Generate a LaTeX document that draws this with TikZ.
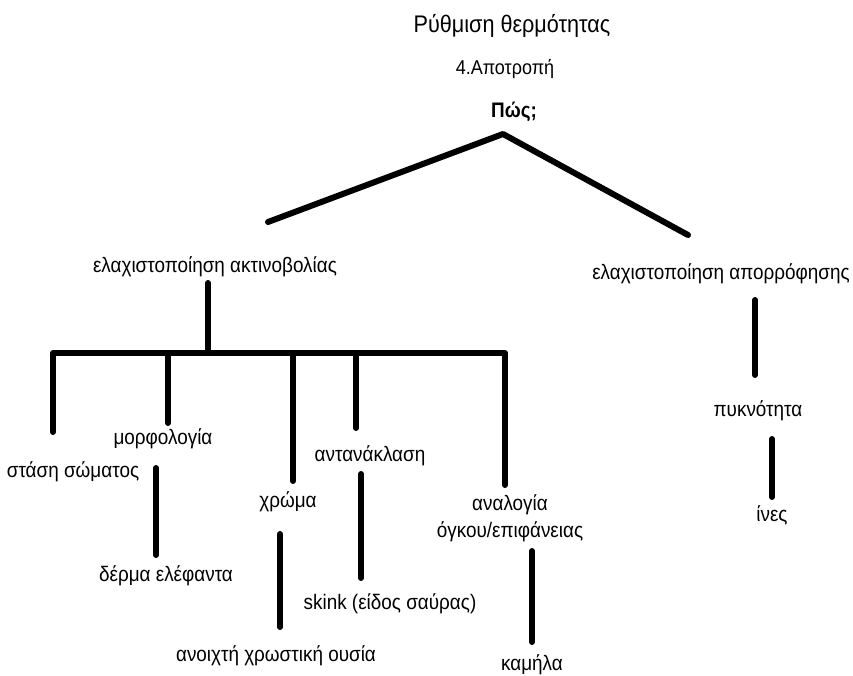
\documentclass[tikz,border=0pt]{standalone}
\usepackage{fontspec}
\setmainfont[FakeStretch=0.9]{Liberation Sans}
\begin{document}
\begin{tikzpicture}[x=1pt,y=-1pt,
  lbl/.style={inner sep=0pt, anchor=center, font=\fontsize{21}{27}\selectfont, text height=0.72em, text depth=0.2em},
  ttl/.style={lbl, font=\fontsize{24}{27}\selectfont},
  sub/.style={lbl, font=\fontsize{20}{23}\selectfont},
  bld/.style={lbl, font=\fontsize{21}{24}\selectfont\bfseries},
  link/.style={line width=6pt, line cap=round, line join=round}]
\useasboundingbox (0,0) rectangle (853,675);

% texts
\node[ttl] (title) at (512,30) {Ρύθμιση θερμότητας};
\node[sub] (sub) at (505,72) {4.Αποτροπή};
\node[bld] (how) at (514,115) {Πώς;};
\node[lbl] (rad) at (215,270) {ελαχιστοποίηση ακτινοβολίας};
\node[lbl] (abs) at (721,277) {ελαχιστοποίηση απορρόφησης};
\node[lbl] (stasi) at (73,475) {στάση σώματος};
\node[lbl] (morf) at (163,442) {μορφολογία};
\node[lbl] (derma) at (166,579) {δέρμα ελέφαντα};
\node[lbl] (chroma) at (288,505) {χρώμα};
\node[lbl] (ousia) at (276,659) {ανοιχτή χρωστική ουσία};
\node[lbl] (antan) at (370,459) {αντανάκλαση};
\node[lbl] (skink) at (390,607) {skink (είδος σαύρας)};
\node[lbl,align=center,text height=,text depth=] (anal) at (510,518) {αναλογία\\όγκου/επιφάνειας};
\node[lbl] (kamila) at (532,668) {καμήλα};
\node[lbl] (pykn) at (758,414) {πυκνότητα};
\node[lbl] (ines) at (772,519) {ίνες};

% connector end points
\coordinate (apex) at (503,134);
\coordinate (vl) at (268,222);
\coordinate (vr) at (688,235);
\coordinate (radb) at (208,283);
\coordinate (bar) at (208,353);
\coordinate (barL) at (53,353);
\coordinate (barR) at (505,353);
\coordinate (b1) at (53,432);
\coordinate (t2) at (168,353);
\coordinate (b2) at (168,423);
\coordinate (t3) at (293,353);
\coordinate (b3) at (293,481);
\coordinate (t4) at (356,356);
\coordinate (b4) at (356,428);
\coordinate (b5) at (505,485);
\coordinate (m1) at (156,468);
\coordinate (m2) at (156,555);
\coordinate (c1) at (280,534);
\coordinate (c2) at (280,627);
\coordinate (a1) at (361,474);
\coordinate (a2) at (361,578);
\coordinate (g1) at (532,551);
\coordinate (g2) at (532,642);
\coordinate (p1) at (755,300);
\coordinate (p2) at (755,375);
\coordinate (i1) at (772,439);
\coordinate (i2) at (772,497);

% connectors
\draw[link] (vl) -- (apex) -- (vr);
\draw[link] (radb) -- (bar);
\draw[link] (b1) -- (barL) -- (barR) -- (b5);
\draw[link] (t2) -- (b2);
\draw[link] (t3) -- (b3);
\draw[link] (t4) -- (b4);
\draw[link] (m1) -- (m2);
\draw[link] (c1) -- (c2);
\draw[link] (a1) -- (a2);
\draw[link] (g1) -- (g2);
\draw[link] (p1) -- (p2);
\draw[link] (i1) -- (i2);
\end{tikzpicture}
\end{document}
